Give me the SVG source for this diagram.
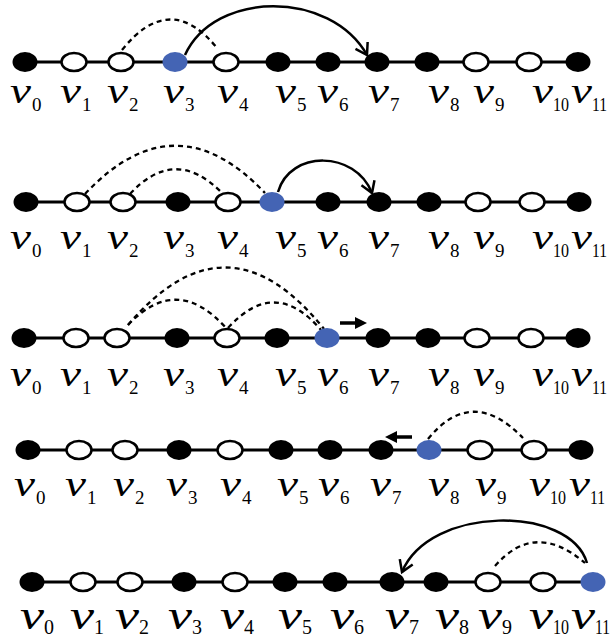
<svg xmlns="http://www.w3.org/2000/svg" width="613" height="639" viewBox="0 0 613 639">
<style>
.ln{stroke:#000;stroke-width:3;fill:none}
.b{fill:#000}
.w{fill:#fff;stroke:#000;stroke-width:2.5}
.u{fill:#4464b4}
.arc{fill:none;stroke:#000;stroke-width:2.5}
.dash{fill:none;stroke:#000;stroke-width:2.3;stroke-dasharray:5,4}
.v{font-family:"Liberation Serif",serif;font-style:italic;font-size:35px;fill:#000}
.s{font-family:"Liberation Serif",serif;font-size:19px;fill:#000}
.v5{font-family:"Liberation Serif",serif;font-style:italic;font-size:39px;fill:#000}
.s5{font-family:"Liberation Serif",serif;font-size:20px;fill:#000}
</style>
<defs>
<marker id="chev" markerUnits="userSpaceOnUse" markerWidth="30" markerHeight="30" refX="0" refY="0" viewBox="-15 -15 30 30" orient="auto" overflow="visible">
<path d="M-11,-7 L0,0 L-11,7" fill="none" stroke="#000" stroke-width="2.5"/>
</marker>
</defs>
<g id="connectors">
<line class="ln" x1="25" y1="62" x2="578" y2="62"/>
<line class="ln" x1="26" y1="202" x2="579" y2="202"/>
<line class="ln" x1="24" y1="338" x2="578" y2="338"/>
<line class="ln" x1="28" y1="450" x2="581" y2="450"/>
<line class="ln" x1="32" y1="582" x2="593" y2="582"/>
<path class="dash" d="M122,50 Q170,-10 217,48"/>
<path class="arc" d="M185,55 C215,-10 330,-10 367,55" marker-end="url(#chev)"/>
<path class="dash" d="M85,194 Q175,98 265,193"/>
<path class="dash" d="M130,194 Q175,145 222,193"/>
<path class="arc" d="M278,192 C290,150 355,150 372,193" marker-end="url(#chev)"/>
<path class="dash" d="M128,325 Q227,208 324,329"/>
<path class="dash" d="M128,325 Q177,273 226,328"/>
<path class="dash" d="M228,328 Q275,276 321,330"/>
<path d="M340,323 L356,323" stroke="#000" stroke-width="3.5"/>
<path d="M355,317 L367,323 L355,329 Z" fill="#000"/>
<path class="dash" d="M428,439 Q472,385 523,438"/>
<path d="M396,437 L412,437" stroke="#000" stroke-width="3.5"/>
<path d="M397,431 L385,437 L397,443 Z" fill="#000"/>
<path class="arc" d="M587,563 C570,505 430,505 402,572" marker-end="url(#chev)"/>
<path class="dash" d="M495,566 Q535,520 585,563"/>
</g>
<g id="row1">
<g id="r1v0"><ellipse class="b" cx="25" cy="62" rx="12.5" ry="10"/><text class="v" x="10" y="103" textLength="21" lengthAdjust="spacingAndGlyphs">v</text><text class="s" x="32" y="111">0</text></g>
<g id="r1v1"><ellipse class="w" cx="74" cy="62" rx="12.5" ry="9"/><text class="v" x="60" y="103" textLength="21" lengthAdjust="spacingAndGlyphs">v</text><text class="s" x="82" y="111">1</text></g>
<g id="r1v2"><ellipse class="w" cx="121" cy="62" rx="12.5" ry="9"/><text class="v" x="107" y="103" textLength="21" lengthAdjust="spacingAndGlyphs">v</text><text class="s" x="129" y="111">2</text></g>
<g id="r1v3"><ellipse class="u" cx="175" cy="62" rx="12.5" ry="10"/><text class="v" x="163" y="103" textLength="21" lengthAdjust="spacingAndGlyphs">v</text><text class="s" x="185" y="111">3</text></g>
<g id="r1v4"><ellipse class="w" cx="226" cy="62" rx="12.5" ry="9"/><text class="v" x="217" y="103" textLength="21" lengthAdjust="spacingAndGlyphs">v</text><text class="s" x="239" y="111">4</text></g>
<g id="r1v5"><ellipse class="b" cx="278" cy="62" rx="12.5" ry="10"/><text class="v" x="275" y="103" textLength="21" lengthAdjust="spacingAndGlyphs">v</text><text class="s" x="297" y="111">5</text></g>
<g id="r1v6"><ellipse class="b" cx="328" cy="62" rx="12.5" ry="10"/><text class="v" x="317" y="103" textLength="21" lengthAdjust="spacingAndGlyphs">v</text><text class="s" x="339" y="111">6</text></g>
<g id="r1v7"><ellipse class="b" cx="377" cy="62" rx="12.5" ry="10"/><text class="v" x="368" y="103" textLength="21" lengthAdjust="spacingAndGlyphs">v</text><text class="s" x="390" y="111">7</text></g>
<g id="r1v8"><ellipse class="b" cx="427" cy="62" rx="12.5" ry="10"/><text class="v" x="428" y="103" textLength="21" lengthAdjust="spacingAndGlyphs">v</text><text class="s" x="450" y="111">8</text></g>
<g id="r1v9"><ellipse class="w" cx="476" cy="62" rx="12.5" ry="9"/><text class="v" x="473" y="103" textLength="21" lengthAdjust="spacingAndGlyphs">v</text><text class="s" x="495" y="111">9</text></g>
<g id="r1v10"><ellipse class="w" cx="529" cy="62" rx="12.5" ry="9"/><text class="v" x="532" y="103" textLength="21" lengthAdjust="spacingAndGlyphs">v</text><text class="s" x="553" y="111" textLength="16" lengthAdjust="spacingAndGlyphs">10</text></g>
<g id="r1v11"><ellipse class="b" cx="578" cy="62" rx="12.5" ry="10"/><text class="v" x="571" y="103" textLength="21" lengthAdjust="spacingAndGlyphs">v</text><text class="s" x="592" y="111" textLength="15" lengthAdjust="spacingAndGlyphs">11</text></g>
</g>
<g id="row2">
<g id="r2v0"><ellipse class="b" cx="26" cy="202" rx="12.5" ry="10"/><text class="v" x="10" y="249" textLength="21" lengthAdjust="spacingAndGlyphs">v</text><text class="s" x="32" y="257">0</text></g>
<g id="r2v1"><ellipse class="w" cx="77" cy="202" rx="12.5" ry="9"/><text class="v" x="60" y="249" textLength="21" lengthAdjust="spacingAndGlyphs">v</text><text class="s" x="82" y="257">1</text></g>
<g id="r2v2"><ellipse class="w" cx="123" cy="202" rx="12.5" ry="9"/><text class="v" x="107" y="249" textLength="21" lengthAdjust="spacingAndGlyphs">v</text><text class="s" x="129" y="257">2</text></g>
<g id="r2v3"><ellipse class="b" cx="178" cy="202" rx="12.5" ry="10"/><text class="v" x="163" y="249" textLength="21" lengthAdjust="spacingAndGlyphs">v</text><text class="s" x="185" y="257">3</text></g>
<g id="r2v4"><ellipse class="w" cx="228" cy="202" rx="12.5" ry="9"/><text class="v" x="217" y="249" textLength="21" lengthAdjust="spacingAndGlyphs">v</text><text class="s" x="239" y="257">4</text></g>
<g id="r2v5"><ellipse class="u" cx="272" cy="202" rx="12.5" ry="10"/><text class="v" x="275" y="249" textLength="21" lengthAdjust="spacingAndGlyphs">v</text><text class="s" x="297" y="257">5</text></g>
<g id="r2v6"><ellipse class="b" cx="328" cy="202" rx="12.5" ry="10"/><text class="v" x="317" y="249" textLength="21" lengthAdjust="spacingAndGlyphs">v</text><text class="s" x="339" y="257">6</text></g>
<g id="r2v7"><ellipse class="b" cx="379" cy="202" rx="12.5" ry="10"/><text class="v" x="368" y="249" textLength="21" lengthAdjust="spacingAndGlyphs">v</text><text class="s" x="390" y="257">7</text></g>
<g id="r2v8"><ellipse class="b" cx="429" cy="202" rx="12.5" ry="10"/><text class="v" x="428" y="249" textLength="21" lengthAdjust="spacingAndGlyphs">v</text><text class="s" x="450" y="257">8</text></g>
<g id="r2v9"><ellipse class="w" cx="478" cy="202" rx="12.5" ry="9"/><text class="v" x="473" y="249" textLength="21" lengthAdjust="spacingAndGlyphs">v</text><text class="s" x="495" y="257">9</text></g>
<g id="r2v10"><ellipse class="w" cx="532" cy="202" rx="12.5" ry="9"/><text class="v" x="532" y="249" textLength="21" lengthAdjust="spacingAndGlyphs">v</text><text class="s" x="553" y="257" textLength="16" lengthAdjust="spacingAndGlyphs">10</text></g>
<g id="r2v11"><ellipse class="b" cx="579" cy="202" rx="12.5" ry="10"/><text class="v" x="571" y="249" textLength="21" lengthAdjust="spacingAndGlyphs">v</text><text class="s" x="592" y="257" textLength="15" lengthAdjust="spacingAndGlyphs">11</text></g>
</g>
<g id="row3">
<g id="r3v0"><ellipse class="b" cx="24" cy="338" rx="12.5" ry="10"/><text class="v" x="10" y="386" textLength="21" lengthAdjust="spacingAndGlyphs">v</text><text class="s" x="32" y="394">0</text></g>
<g id="r3v1"><ellipse class="w" cx="76" cy="338" rx="12.5" ry="9"/><text class="v" x="60" y="386" textLength="21" lengthAdjust="spacingAndGlyphs">v</text><text class="s" x="82" y="394">1</text></g>
<g id="r3v2"><ellipse class="w" cx="117" cy="338" rx="12.5" ry="9"/><text class="v" x="107" y="386" textLength="21" lengthAdjust="spacingAndGlyphs">v</text><text class="s" x="129" y="394">2</text></g>
<g id="r3v3"><ellipse class="b" cx="177" cy="338" rx="12.5" ry="10"/><text class="v" x="163" y="386" textLength="21" lengthAdjust="spacingAndGlyphs">v</text><text class="s" x="185" y="394">3</text></g>
<g id="r3v4"><ellipse class="w" cx="227" cy="338" rx="12.5" ry="9"/><text class="v" x="217" y="386" textLength="21" lengthAdjust="spacingAndGlyphs">v</text><text class="s" x="239" y="394">4</text></g>
<g id="r3v5"><ellipse class="b" cx="277" cy="338" rx="12.5" ry="10"/><text class="v" x="275" y="386" textLength="21" lengthAdjust="spacingAndGlyphs">v</text><text class="s" x="297" y="394">5</text></g>
<g id="r3v6"><ellipse class="u" cx="327" cy="338" rx="12.5" ry="10"/><text class="v" x="317" y="386" textLength="21" lengthAdjust="spacingAndGlyphs">v</text><text class="s" x="339" y="394">6</text></g>
<g id="r3v7"><ellipse class="b" cx="378" cy="338" rx="12.5" ry="10"/><text class="v" x="368" y="386" textLength="21" lengthAdjust="spacingAndGlyphs">v</text><text class="s" x="390" y="394">7</text></g>
<g id="r3v8"><ellipse class="b" cx="428" cy="338" rx="12.5" ry="10"/><text class="v" x="428" y="386" textLength="21" lengthAdjust="spacingAndGlyphs">v</text><text class="s" x="450" y="394">8</text></g>
<g id="r3v9"><ellipse class="w" cx="477" cy="338" rx="12.5" ry="9"/><text class="v" x="473" y="386" textLength="21" lengthAdjust="spacingAndGlyphs">v</text><text class="s" x="495" y="394">9</text></g>
<g id="r3v10"><ellipse class="w" cx="531" cy="338" rx="12.5" ry="9"/><text class="v" x="532" y="386" textLength="21" lengthAdjust="spacingAndGlyphs">v</text><text class="s" x="553" y="394" textLength="16" lengthAdjust="spacingAndGlyphs">10</text></g>
<g id="r3v11"><ellipse class="b" cx="578" cy="338" rx="12.5" ry="10"/><text class="v" x="571" y="386" textLength="21" lengthAdjust="spacingAndGlyphs">v</text><text class="s" x="592" y="394" textLength="15" lengthAdjust="spacingAndGlyphs">11</text></g>
</g>
<g id="row4">
<g id="r4v0"><ellipse class="b" cx="28" cy="450" rx="12.5" ry="10"/><text class="v" x="14" y="496" textLength="21" lengthAdjust="spacingAndGlyphs">v</text><text class="s" x="36" y="504">0</text></g>
<g id="r4v1"><ellipse class="w" cx="79" cy="450" rx="12.5" ry="9"/><text class="v" x="65" y="496" textLength="21" lengthAdjust="spacingAndGlyphs">v</text><text class="s" x="87" y="504">1</text></g>
<g id="r4v2"><ellipse class="w" cx="125" cy="450" rx="12.5" ry="9"/><text class="v" x="113" y="496" textLength="21" lengthAdjust="spacingAndGlyphs">v</text><text class="s" x="135" y="504">2</text></g>
<g id="r4v3"><ellipse class="b" cx="179" cy="450" rx="12.5" ry="10"/><text class="v" x="166" y="496" textLength="21" lengthAdjust="spacingAndGlyphs">v</text><text class="s" x="188" y="504">3</text></g>
<g id="r4v4"><ellipse class="w" cx="230" cy="450" rx="12.5" ry="9"/><text class="v" x="220" y="496" textLength="21" lengthAdjust="spacingAndGlyphs">v</text><text class="s" x="242" y="504">4</text></g>
<g id="r4v5"><ellipse class="b" cx="281" cy="450" rx="12.5" ry="10"/><text class="v" x="277" y="496" textLength="21" lengthAdjust="spacingAndGlyphs">v</text><text class="s" x="299" y="504">5</text></g>
<g id="r4v6"><ellipse class="b" cx="330" cy="450" rx="12.5" ry="10"/><text class="v" x="318" y="496" textLength="21" lengthAdjust="spacingAndGlyphs">v</text><text class="s" x="340" y="504">6</text></g>
<g id="r4v7"><ellipse class="b" cx="381" cy="450" rx="12.5" ry="10"/><text class="v" x="370" y="496" textLength="21" lengthAdjust="spacingAndGlyphs">v</text><text class="s" x="392" y="504">7</text></g>
<g id="r4v8"><ellipse class="u" cx="429" cy="450" rx="12.5" ry="10"/><text class="v" x="428" y="496" textLength="21" lengthAdjust="spacingAndGlyphs">v</text><text class="s" x="450" y="504">8</text></g>
<g id="r4v9"><ellipse class="w" cx="480" cy="450" rx="12.5" ry="9"/><text class="v" x="475" y="496" textLength="21" lengthAdjust="spacingAndGlyphs">v</text><text class="s" x="497" y="504">9</text></g>
<g id="r4v10"><ellipse class="w" cx="534" cy="450" rx="12.5" ry="9"/><text class="v" x="529" y="496" textLength="21" lengthAdjust="spacingAndGlyphs">v</text><text class="s" x="550" y="504" textLength="16" lengthAdjust="spacingAndGlyphs">10</text></g>
<g id="r4v11"><ellipse class="b" cx="581" cy="450" rx="12.5" ry="10"/><text class="v" x="569" y="496" textLength="21" lengthAdjust="spacingAndGlyphs">v</text><text class="s" x="590" y="504" textLength="15" lengthAdjust="spacingAndGlyphs">11</text></g>
</g>
<g id="row5">
<g id="r5v0"><ellipse class="b" cx="32" cy="582" rx="12.5" ry="10"/><text class="v5" x="20" y="629" textLength="24" lengthAdjust="spacingAndGlyphs">v</text><text class="s5" x="44" y="634">0</text></g>
<g id="r5v1"><ellipse class="w" cx="83" cy="582" rx="12.5" ry="9"/><text class="v5" x="70" y="629" textLength="24" lengthAdjust="spacingAndGlyphs">v</text><text class="s5" x="94" y="634">1</text></g>
<g id="r5v2"><ellipse class="w" cx="130" cy="582" rx="12.5" ry="9"/><text class="v5" x="115" y="629" textLength="24" lengthAdjust="spacingAndGlyphs">v</text><text class="s5" x="139" y="634">2</text></g>
<g id="r5v3"><ellipse class="b" cx="184" cy="582" rx="12.5" ry="10"/><text class="v5" x="168" y="629" textLength="24" lengthAdjust="spacingAndGlyphs">v</text><text class="s5" x="192" y="634">3</text></g>
<g id="r5v4"><ellipse class="w" cx="235" cy="582" rx="12.5" ry="9"/><text class="v5" x="220" y="629" textLength="24" lengthAdjust="spacingAndGlyphs">v</text><text class="s5" x="244" y="634">4</text></g>
<g id="r5v5"><ellipse class="b" cx="285" cy="582" rx="12.5" ry="10"/><text class="v5" x="278" y="629" textLength="24" lengthAdjust="spacingAndGlyphs">v</text><text class="s5" x="302" y="634">5</text></g>
<g id="r5v6"><ellipse class="b" cx="335" cy="582" rx="12.5" ry="10"/><text class="v5" x="330" y="629" textLength="24" lengthAdjust="spacingAndGlyphs">v</text><text class="s5" x="354" y="634">6</text></g>
<g id="r5v7"><ellipse class="b" cx="392" cy="582" rx="12.5" ry="10"/><text class="v5" x="385" y="629" textLength="24" lengthAdjust="spacingAndGlyphs">v</text><text class="s5" x="409" y="634">7</text></g>
<g id="r5v8"><ellipse class="b" cx="436" cy="582" rx="12.5" ry="10"/><text class="v5" x="435" y="629" textLength="24" lengthAdjust="spacingAndGlyphs">v</text><text class="s5" x="459" y="634">8</text></g>
<g id="r5v9"><ellipse class="w" cx="488" cy="582" rx="12.5" ry="9"/><text class="v5" x="478" y="629" textLength="24" lengthAdjust="spacingAndGlyphs">v</text><text class="s5" x="502" y="634">9</text></g>
<g id="r5v10"><ellipse class="w" cx="543" cy="582" rx="12.5" ry="9"/><text class="v5" x="529" y="629" textLength="24" lengthAdjust="spacingAndGlyphs">v</text><text class="s5" x="553" y="634" textLength="16" lengthAdjust="spacingAndGlyphs">10</text></g>
<g id="r5v11"><ellipse class="u" cx="593" cy="582" rx="12.5" ry="10"/><text class="v5" x="571" y="629" textLength="24" lengthAdjust="spacingAndGlyphs">v</text><text class="s5" x="595" y="634" textLength="15" lengthAdjust="spacingAndGlyphs">11</text></g>
</g>
</svg>
